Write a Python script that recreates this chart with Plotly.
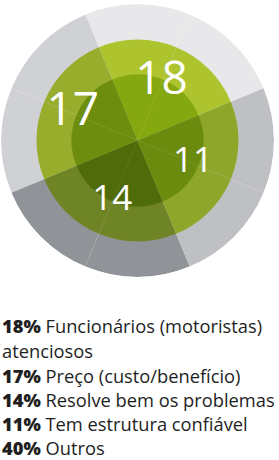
import plotly.graph_objects as go

# ---- data ----
values = [18, 17, 14, 11]                 # quadrant labels
legend_pcts = [18, 17, 14, 11, 40]
legend_names = ["Funcionários (motoristas)|atenciosos", "Preço (custo/benefício)",
                "Resolve bem os problemas", "Tem estrutura confiável", "Outros"]

# ---- styling ----
outer_colors = ["#e8e8ea", "#d0d1d4", "#909398", "#bfc0c4"]
middle_colors = ["#adc42f", "#97ad2b", "#6f8424", "#8ea72a"]
inner_colors = ["#85a70f", "#6d8d0f", "#506b09", "#6b8b0f"]
quad_mid = [67.5, 157.5, 247.5, 337.5]     # angle centre of each quadrant (deg, ccw from east)
label_r = [63, 70, 66, 60]
label_size = [46, 46, 35, 35]
R_OUT, R_MID, R_IN = 136.5, 101, 66

W, H = 279, 460

def half_sectors(colors):
    th, cols = [], []
    for m, c in zip(quad_mid, colors):
        th += [m - 22.5, m + 22.5]
        cols += [c, c]
    return th, cols

fig = go.Figure()
for rad, cols in [(R_OUT, outer_colors), (R_MID, middle_colors), (R_IN, inner_colors)]:
    th, cc = half_sectors(cols)
    fig.add_trace(go.Barpolar(
        r=[rad] * len(th), theta=th, width=[45] * len(th),
        marker=dict(color=cc, line=dict(color="rgba(255,255,255,0.06)", width=0.6)),
        hoverinfo="skip", showlegend=False))

fig.add_trace(go.Scatterpolar(
    r=label_r, theta=quad_mid, mode="text",
    text=[str(v) for v in values],
    textfont=dict(family="Open Sans", size=label_size, color="white", weight=500),
    textposition="middle center", hoverinfo="skip", showlegend=False))

fig.update_layout(
    width=W, height=H, margin=dict(l=0, r=0, t=0, b=0),
    paper_bgcolor="white", plot_bgcolor="white",
    polar=dict(
        domain=dict(x=[1 / W, 274 / W], y=[1 - 277 / H, 1 - 4 / H]),
        bgcolor="rgba(0,0,0,0)", bargap=0, barmode="overlay", hole=0,
        radialaxis=dict(range=[0, R_OUT], visible=False, showgrid=False),
        angularaxis=dict(visible=False, showgrid=False, direction="counterclockwise",
                         rotation=0, showline=False),
    ),
)

# legend text lines
lines = []
for p, n in zip(legend_pcts, legend_names):
    parts = n.split("|")
    lines.append(f'<span style="font-weight:800">{p}%</span> {parts[0]}')
    for extra in parts[1:]:
        lines.append(extra)
line_y = [325, 350, 375, 399, 423, 447]
for txt, y in zip(lines, line_y):
    fig.add_annotation(
        x=0, y=1 - y / H, xref="paper", yref="paper", xanchor="left", yanchor="middle",
        xshift=1, text=txt, showarrow=False, align="left", borderpad=0,
        font=dict(family="Open Sans", size=18.3, color="#1e1e1e"))

fig.write_html("out.html")
